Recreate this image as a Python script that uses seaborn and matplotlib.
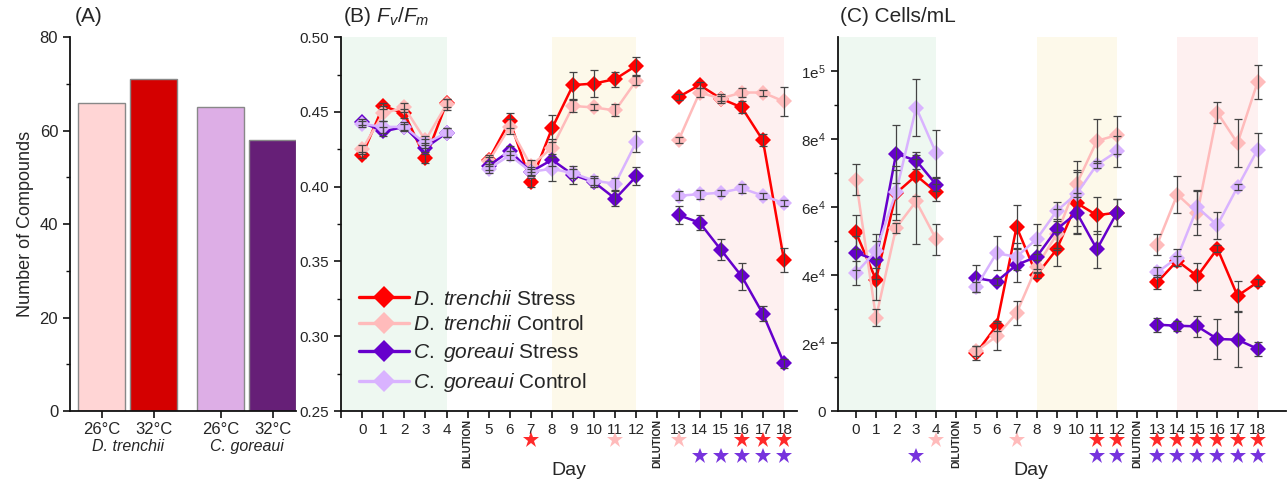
import numpy as np
import pandas as pd
import matplotlib
matplotlib.use("Agg")
import matplotlib.pyplot as plt
import matplotlib.transforms as mtransforms
from matplotlib.lines import Line2D
import seaborn as sns

# Style
sns.set_style("ticks")
plt.rcParams['font.family'] = ['Liberation Sans', 'DejaVu Sans']
plt.rcParams['mathtext.fontset'] = 'custom'
plt.rcParams['mathtext.rm'] = 'Liberation Sans'
plt.rcParams['mathtext.it'] = 'Liberation Sans:italic'

# ---- Data ----
# Panel A
bar_labels = ['Dt26', 'Dt32', 'Cg26', 'Cg32']
bar_temps = ['26°C', '32°C', '26°C', '32°C']
compounds = [66, 71, 65, 58]
bar_colors = ['#FFD5D5', '#D40000', '#DDAEE6', '#661F77']
species_names = ['D. trenchii', 'C. goreaui']

# Days sampled (0-18), dilution after day 4 and after day 12
days = list(range(19))

series_names = [r'$\mathit{D.\ trenchii}$ Stress', r'$\mathit{D.\ trenchii}$ Control',
                r'$\mathit{C.\ goreaui}$ Stress', r'$\mathit{C.\ goreaui}$ Control']
series_colors = ['#FF0000', '#FFBBBB', '#6600CC', '#D9B3FF']

# Panel B: Fv/Fm
fvfm_dt_stress = [0.421, 0.454, 0.449, 0.419, 0.456, 0.418, 0.444, 0.403, 0.439, 0.468,
                  0.469, 0.472, 0.481, 0.460, 0.468, 0.459, 0.453, 0.431, 0.351]
fvfm_dt_control = [0.425, 0.449, 0.453, 0.431, 0.455, 0.417, 0.440, 0.414, 0.426, 0.454,
                   0.453, 0.451, 0.471, 0.431, 0.463, 0.459, 0.463, 0.463, 0.457]
fvfm_cg_stress = [0.443, 0.437, 0.440, 0.426, 0.436, 0.414, 0.424, 0.410, 0.418, 0.408,
                  0.403, 0.392, 0.407, 0.381, 0.376, 0.358, 0.340, 0.315, 0.282]
fvfm_cg_control = [0.442, 0.440, 0.440, 0.429, 0.436, 0.412, 0.421, 0.410, 0.412, 0.409,
                   0.404, 0.402, 0.430, 0.394, 0.395, 0.396, 0.399, 0.394, 0.389]
fvfm_err_dt_stress = [0.002, 0.002, 0.003, 0.003, 0.003, 0.003, 0.005, 0.003, 0.009, 0.009,
                      0.009, 0.005, 0.006, 0.002, 0.002, 0.002, 0.004, 0.004, 0.008]
fvfm_err_dt_control = [0.003, 0.005, 0.003, 0.003, 0.004, 0.003, 0.005, 0.004, 0.006, 0.004,
                       0.002, 0.004, 0.003, 0.002, 0.003, 0.003, 0.003, 0.002, 0.010]
fvfm_err_cg_stress = [0.002, 0.003, 0.002, 0.003, 0.003, 0.003, 0.003, 0.003, 0.004, 0.006,
                      0.003, 0.005, 0.006, 0.006, 0.005, 0.007, 0.009, 0.005, 0.003]
fvfm_err_cg_control = [0.002, 0.004, 0.003, 0.003, 0.003, 0.003, 0.003, 0.002, 0.008, 0.003,
                       0.003, 0.004, 0.007, 0.003, 0.003, 0.002, 0.003, 0.002, 0.002]

# Panel C: Cells/mL
cells_dt_stress = [52600, 38600, 64100, 69300, 64400, 17100, 25100, 54200, 40000, 47600,
                   61200, 57600, 58400, 37900, 44200, 39700, 47800, 33900, 37900]
cells_dt_control = [68100, 27500, 53900, 61700, 50500, 17600, 22000, 28800, 42500, 52000,
                    66900, 79500, 81200, 49000, 63700, 58300, 87800, 78800, 96800]
cells_cg_stress = [46600, 44400, 75700, 73700, 66600, 39100, 38100, 43000, 45400, 53500,
                   58300, 47600, 58400, 25400, 25100, 24900, 21200, 21000, 18300]
cells_cg_control = [40600, 47100, 64400, 89300, 75800, 36600, 46400, 45400, 50600, 58900,
                    64000, 72500, 76400, 40800, 45100, 59900, 54700, 65900, 76900]
cells_err_dt_stress = [5000, 6000, 8000, 6000, 2500, 2000, 1500, 6500, 1000, 5000,
                       9000, 5500, 4000, 2000, 1500, 4000, 1000, 4500, 1000]
cells_err_dt_control = [4500, 2500, 1500, 12500, 4500, 1500, 4000, 3500, 2000, 4000,
                        4000, 6500, 5500, 3000, 5500, 6500, 3000, 7000, 5000]
cells_err_cg_stress = [5000, 5500, 8500, 2500, 2000, 4000, 1000, 5000, 3500, 6000,
                       6000, 5500, 4000, 2000, 1500, 3000, 6000, 8000, 2000]
cells_err_cg_control = [3500, 5000, 6500, 8500, 7000, 1500, 5000, 4000, 4500, 2500,
                        9500, 1000, 4500, 1500, 2500, 5000, 4000, 1000, 5000]

# Significance stars: (day, colour index) for the two rows
fvfm_stars_row1 = [(7, 0), (11, 1), (13, 1), (16, 0), (17, 0), (18, 0)]
fvfm_stars_row2 = [(14, 2), (15, 2), (16, 2), (17, 2), (18, 2)]
cells_stars_row1 = [(4, 1), (7, 1), (11, 0), (12, 0), (13, 0), (14, 0), (15, 0),
                    (16, 0), (17, 0), (18, 0)]
cells_stars_row2 = [(3, 2), (11, 2), (12, 2), (13, 2), (14, 2), (15, 2), (16, 2),
                    (17, 2), (18, 2)]
star_colors = ['#FF2A2A', '#FFBBBB', '#7733DD']


def day_pos(d):
    # gaps left for the two dilution labels
    if d <= 4:
        return d
    if d <= 12:
        return d + 1
    return d + 2


segments = [range(0, 5), range(5, 13), range(13, 19)]
dilution_pos = [5, 14]

fig = plt.figure(figsize=(12.87, 4.83), dpi=100)
axA = fig.add_axes([0.0544, 0.149, 0.1756, 0.774])
axB = fig.add_axes([0.265, 0.149, 0.354, 0.774])
axC = fig.add_axes([0.651, 0.149, 0.348, 0.774])

# ---- Panel A ----
bar_pos = [0, 1, 2.29, 3.29]
dfA = pd.DataFrame({'pos': bar_pos, 'count': compounds, 'grp': bar_labels})
sns.barplot(data=dfA, x='pos', y='count', hue='grp', hue_order=bar_labels,
            palette=dict(zip(bar_labels, bar_colors)), native_scale=True,
            dodge=False, width=0.9, saturation=1, edgecolor='#888888', linewidth=1,
            legend=False, ax=axA)
axA.set_xlim(-0.606, 3.74)
axA.set_ylim(0, 80)
axA.set_yticks([0, 20, 40, 60, 80])
axA.set_yticks([10, 30, 50, 70], minor=True)
axA.set_xticks(bar_pos)
axA.set_xticklabels(bar_temps, fontsize=12)
axA.tick_params(axis='y', labelsize=12)
axA.tick_params(axis='x', length=0, pad=3)
axA.set_xlabel('')
axA.set_ylabel('Number of Compounds', fontsize=13)
trA = mtransforms.blended_transform_factory(axA.transData, axA.transAxes)
axA.text(0.5, -0.095, species_names[0], style='italic', fontsize=11.5,
         ha='center', va='center', transform=trA)
axA.text(2.79, -0.095, species_names[1], style='italic', fontsize=11.5,
         ha='center', va='center', transform=trA)
axA.text(0.02, 1.055, '(A)', fontsize=15, transform=axA.transAxes, va='center')
sns.despine(ax=axA)


def time_panel(ax, values, errors, ylim, stars1, stars2):
    ax.axvspan(-1, 4, color='#EEF8F1', zorder=0, lw=0)
    ax.axvspan(9, 13, color='#FDF9EA', zorder=0, lw=0)
    ax.axvspan(16, 20, color='#FEF0F0', zorder=0, lw=0)
    for vals, errs, col in zip(values, errors, series_colors):
        for seg in segments:
            xs = [day_pos(d) for d in seg]
            ys = [vals[d] for d in seg]
            sns.lineplot(x=xs, y=ys, color=col, marker='D', markersize=8,
                         markeredgewidth=0, linewidth=1.8, sort=False,
                         errorbar=None, ax=ax, zorder=3)
        ax.errorbar([day_pos(d) for d in days], vals, yerr=errs, fmt='none',
                    ecolor='#444444', elinewidth=0.9, capsize=3, capthick=0.9,
                    zorder=4)
    ax.set_ylim(*ylim)
    ticks = list(range(-1, 21))
    labels = []
    for p in ticks:
        lab = ''
        for d in days:
            if day_pos(d) == p:
                lab = str(d)
        labels.append(lab)
    ax.set_xticks(ticks)
    ax.set_xticklabels(labels, fontsize=11)
    ax.tick_params(axis='both', direction='out', labelsize=11)
    tr = mtransforms.blended_transform_factory(ax.transData, ax.transAxes)
    for p in dilution_pos:
        ax.text(p, -0.02, 'DILUTION', rotation=90, fontsize=7.5, fontweight='bold',
                ha='center', va='top', transform=tr)
    for row, yy in ((stars1, -0.078), (stars2, -0.121)):
        for d, ci in row:
            ax.plot(day_pos(d), yy, marker='*', markersize=12, color=star_colors[ci],
                    markeredgewidth=0, transform=tr, clip_on=False)
    ax.set_xlabel('')
    ax.set_ylabel('')
    sns.despine(ax=ax)


# ---- Panel B ----
time_panel(axB,
           [fvfm_dt_stress, fvfm_dt_control, fvfm_cg_stress, fvfm_cg_control],
           [fvfm_err_dt_stress, fvfm_err_dt_control, fvfm_err_cg_stress, fvfm_err_cg_control],
           (0.25, 0.50), fvfm_stars_row1, fvfm_stars_row2)
axB.set_xlim(-1, 20.6)
axB.set_yticks([0.25, 0.30, 0.35, 0.40, 0.45, 0.50])
axB.set_yticklabels(['0.25', '0.30', '0.35', '0.40', '0.45', '0.50'])
axB.set_yticks([0.275, 0.325, 0.375, 0.425, 0.475], minor=True)
axB.text(0.005, 1.055, r'(B) $F_v/F_m$', fontsize=15, transform=axB.transAxes, va='center')
axB.text(0.5, -0.158, 'Day', fontsize=14, ha='center', va='center', transform=axB.transAxes)
handles = [Line2D([0], [0], color=c, marker='D', markersize=11, markeredgewidth=0,
                  linewidth=2.4) for c in series_colors]
axB.legend(handles, series_names, loc='upper left', bbox_to_anchor=(0.04, 0.325),
           frameon=False, fontsize=15, handlelength=2.4, handletextpad=0.2,
           labelspacing=0.33, borderpad=0, borderaxespad=0)

# ---- Panel C ----
time_panel(axC,
           [cells_dt_stress, cells_dt_control, cells_cg_stress, cells_cg_control],
           [cells_err_dt_stress, cells_err_dt_control, cells_err_cg_stress, cells_err_cg_control],
           (0, 110000), cells_stars_row1, cells_stars_row2)
axC.set_xlim(-0.9, 21.4)
axC.set_yticks([0, 20000, 40000, 60000, 80000, 100000])
axC.set_yticklabels(['0', r'2e$^4$', r'4e$^4$', r'6e$^4$', r'8e$^4$', r'1e$^5$'])
axC.set_yticks([10000, 30000, 50000, 70000, 90000], minor=True)
axC.text(0.005, 1.055, '(C) Cells/mL', fontsize=15, transform=axC.transAxes, va='center')
axC.text(0.43, -0.158, 'Day', fontsize=14, ha='center', va='center', transform=axC.transAxes)

for ax in (axA, axB, axC):
    for s in ('left', 'bottom'):
        ax.spines[s].set_linewidth(1.3)
        ax.spines[s].set_color('#111111')
    ax.tick_params(which='major', length=5, width=1.2, color='#111111')
    ax.tick_params(which='minor', length=3, width=1.0, color='#111111')

fig.savefig('out.png', dpi=100)
